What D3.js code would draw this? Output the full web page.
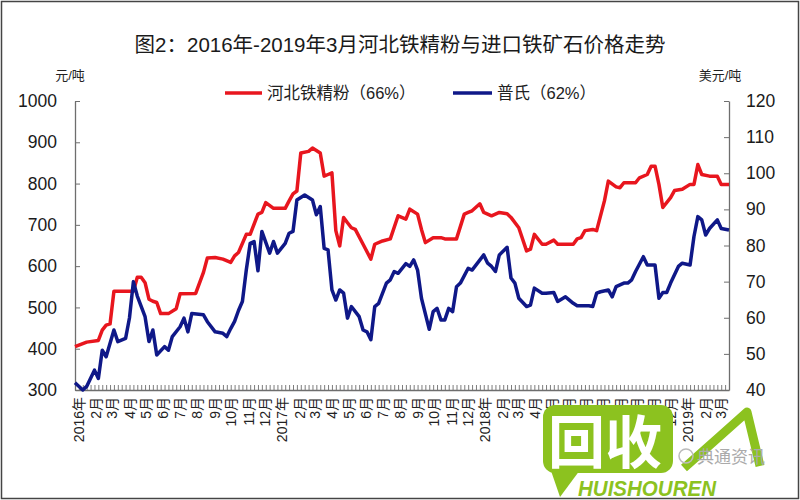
<!DOCTYPE html>
<html><head><meta charset="utf-8">
<script src="https://cdn.jsdelivr.net/npm/d3@7/dist/d3.min.js"></script>
<style>
html,body{margin:0;padding:0;background:#fff;}
text{font-family:"Liberation Sans","Noto Sans CJK SC",sans-serif;}
</style></head>
<body>
<svg id="c" width="800" height="500"></svg>
<script>
// ---- data ----
const title = "图2：2016年-2019年3月河北铁精粉与进口铁矿石价格走势";
const seriesNames = ["河北铁精粉（66%）", "普氏（62%）"];
const leftUnit = "元/吨", rightUnit = "美元/吨";
const leftTicks = [300,400,500,600,700,800,900,1000];
const rightTicks = [40,50,60,70,80,90,100,110,120];
const monthLabels = ["2016年","2月","3月","4月","5月","6月","7月","8月","9月","10月","11月","12月",
  "2017年","2月","3月","4月","5月","6月","7月","8月","9月","10月","11月","12月",
  "2018年","2月","3月","4月","5月","6月","7月","8月","9月","10月","11月","12月",
  "2019年","2月","3月"];
const firstWeek = "2016-01-01";
const weekCount = 168;
// [week index, price] 河北铁精粉 (元/吨, left axis)
const hebei = [[0,405],[3,416],[6,420],[7,445],[8,457],[9,460],[10,539],[15,539],[16,573],[17,573],[18,560],[19,520],[20,515],[21,512],[22,485],[24,485],[26,497],[27,533],[31,534],[33,585],[34,620],[36,621],[38,617],[40,609],[41,625],[42,633],[44,677],[45,677],[47,726],[48,730],[49,754],[51,740],[54,740],[55,758],[56,775],[57,782],[58,874],[60,878],[61,886],[63,874],[64,818],[65,822],[66,826],[67,686],[68,649],[69,718],[70,705],[71,693],[72,689],[74,653],[76,617],[77,653],[79,661],[81,666],[83,722],[85,714],[86,738],[88,726],[89,689],[90,657],[92,669],[94,669],[95,666],[98,666],[100,726],[101,730],[102,734],[104,751],[105,730],[107,722],[109,730],[111,727],[112,718],[114,693],[116,637],[117,641],[118,677],[120,653],[121,653],[123,663],[124,653],[128,653],[129,666],[130,669],[131,686],[133,689],[134,686],[136,758],[137,806],[139,792],[140,790],[141,802],[142,802],[144,802],[145,814],[147,822],[148,842],[149,842],[150,798],[151,742],[153,766],[154,783],[156,786],[158,798],[159,798],[160,846],[161,822],[163,818],[165,818],[166,798],[168,798]];
// [week index, price] 普氏 (美元/吨, right axis)
const platts = [[0,42],[2,40],[3,41],[5,45.5],[6,43.2],[7,51],[8,49.2],[10,56.6],[11,53.4],[13,54.3],[14,60],[15,70],[16,66],[18,60.3],[19,53.4],[20,56.6],[21,49.7],[23,52],[24,51],[25,54.8],[27,57.5],[28,59.9],[29,56.1],[30,61.2],[33,60.8],[34,58.9],[36,56.1],[38,55.7],[39,54.8],[40,57],[41,59],[42,62],[43,64.5],[44,73.2],[45,80.6],[46,81.1],[47,73],[48,83.9],[50,77.9],[51,81.1],[52,77.9],[54,80.6],[55,83.4],[56,83.9],[57,92.6],[59,94],[61,92.6],[62,88.5],[63,90.8],[64,79.2],[65,78.8],[66,67.7],[67,64.9],[68,67.7],[69,66.8],[70,59.9],[71,63.1],[73,60.3],[74,56.6],[75,56.1],[76,53.9],[77,63.1],[78,64],[80,69.6],[81,70.5],[82,72.8],[83,72.3],[85,75],[86,74.2],[87,76],[88,73.2],[89,65.4],[91,56.8],[92,61.7],[93,62.6],[94,59.4],[95,59.4],[96,62.6],[97,61.7],[98,68.6],[99,69.6],[101,73.7],[102,73.2],[105,77.4],[106,75.1],[107,74.2],[108,72.8],[109,77.4],[111,79.5],[112,71],[113,69.6],[114,65.4],[116,63.1],[117,63.5],[118,68.2],[120,66.8],[121,66.8],[123,67],[124,64.5],[126,65.8],[128,64],[129,63.3],[132,63.3],[133,63.1],[134,66.8],[135,67.2],[137,67.7],[138,65.8],[139,68.6],[140,69.1],[141,69.6],[142,69.6],[143,70.5],[144,72.8],[146,76.9],[147,74.6],[149,74.6],[150,65.4],[151,67],[152,67],[153,69.6],[155,74.2],[156,75.1],[158,74.6],[159,82.5],[160,88],[161,87.1],[162,82.9],[163,84.7],[165,87.1],[166,84.7],[168,84.3]];

// ---- chart ----
const svg = d3.select("#c");
const W = 800, H = 500;
const L = 75, R = 729, T = 101, B = 390;
const start = d3.timeParse("%Y-%m-%d")(firstWeek);
const weekDate = w => d3.timeDay.offset(start, w * 7);
const x = d3.scaleTime().domain([start, weekDate(weekCount)]).range([L, R]);
const yL = d3.scaleLinear().domain([300, 1000]).range([B, T]);
const yR = d3.scaleLinear().domain([40, 120]).range([B, T]);
const RED = "#e8161e", BLUE = "#0f1888", AXIS = "#6e6e6e";

svg.append("rect").attr("x",0).attr("y",0).attr("width",W).attr("height",H).attr("fill","#fff");

// title
svg.append("text").attr("x", 400).attr("y", 52).attr("text-anchor","middle")
  .attr("font-size", 20.5).attr("fill","#1a1a1a").text(title);

// units
svg.append("text").attr("x", 70).attr("y", 80).attr("text-anchor","middle").attr("font-size",13).attr("fill","#222").text(leftUnit);
svg.append("text").attr("x", 720).attr("y", 80).attr("text-anchor","middle").attr("font-size",13).attr("fill","#222").text(rightUnit);

// legend
const lg = [{x0:225,x1:262,tx:267,c:RED,t:seriesNames[0]},{x0:453,x1:492,tx:497,c:BLUE,t:seriesNames[1]}];
lg.forEach(d=>{
  svg.append("line").attr("x1",d.x0).attr("x2",d.x1).attr("y1",93).attr("y2",93).attr("stroke",d.c).attr("stroke-width",3.5);
  svg.append("text").attr("x",d.tx).attr("y",99).attr("font-size",16.5).attr("fill","#222").text(d.t);
});

// left axis
const gl = svg.append("g").attr("transform",`translate(${L},0)`)
  .call(d3.axisLeft(yL).tickValues(leftTicks).tickFormat(d3.format("d")).tickSize(-5).tickSizeOuter(0).tickPadding(18));
gl.select(".domain").attr("stroke",AXIS).attr("stroke-width",1.3);
gl.selectAll(".tick line").attr("stroke",AXIS);
gl.selectAll(".tick text").attr("font-size",17.5).attr("fill","#1a1a1a").attr("font-family","Liberation Sans, sans-serif");

// right axis
const gr = svg.append("g").attr("transform",`translate(${R},0)`)
  .call(d3.axisRight(yR).tickValues(rightTicks).tickFormat(d3.format("d")).tickSize(-5).tickSizeOuter(0).tickPadding(17));
gr.select(".domain").attr("stroke",AXIS).attr("stroke-width",1.3);
gr.selectAll(".tick line").attr("stroke",AXIS);
gr.selectAll(".tick text").attr("font-size",17.5).attr("fill","#1a1a1a").attr("font-family","Liberation Sans, sans-serif");

// bottom axis with weekly ticks
const weekTicks = d3.range(0, weekCount + 1).map(weekDate);
const gb = svg.append("g").attr("transform",`translate(0,${B})`)
  .call(d3.axisBottom(x).tickValues(weekTicks).tickSize(-5).tickSizeOuter(0).tickFormat(""));
gb.select(".domain").attr("stroke",AXIS).attr("stroke-width",1.3);
gb.selectAll(".tick line").attr("stroke",AXIS).attr("stroke-width",0.9);

// month labels
const months = d3.timeMonth.range(start, weekDate(weekCount)).slice(0, monthLabels.length);
svg.append("g").selectAll("text").data(months).join("text")
  .attr("transform", (d,i) => `translate(${x(d)+4},397) rotate(-90)`)
  .attr("text-anchor","end").attr("dy","0.35em")
  .attr("font-size",14).attr("fill","#222")
  .attr("font-family","Liberation Serif, Noto Sans CJK SC, serif")
  .text((d,i)=>monthLabels[i]);

// lines
const lineL = d3.line().x(d=>x(weekDate(d[0]))).y(d=>yL(d[1]));
const lineR = d3.line().x(d=>x(weekDate(d[0]))).y(d=>yR(d[1]));
svg.append("path").attr("d", lineL(hebei)).attr("fill","none").attr("stroke",RED).attr("stroke-width",3.5).attr("stroke-linejoin","round");
svg.append("path").attr("d", lineR(platts)).attr("fill","none").attr("stroke",BLUE).attr("stroke-width",3.5).attr("stroke-linejoin","round");

// watermark overlay
const G = "#8cc21f";
const wm = svg.append("g");
wm.append("rect").attr("x",543).attr("y",405).attr("width",130).attr("height",68).attr("rx",12).attr("fill",G);
wm.append("path").attr("d","M548,462 L560,497 L580,470 Z").attr("fill",G);
wm.append("text").attr("x",548).attr("y",463).attr("font-size",57).attr("font-weight","bold").attr("fill","#fff")
  .attr("font-family","Noto Sans CJK SC, sans-serif").text("回收");
wm.append("path").attr("d","M684,468 Q718,438 747,412 L760,466").attr("fill","none").attr("stroke",G).attr("stroke-width",9).attr("stroke-linejoin","round");
wm.append("circle").attr("cx",686).attr("cy",456).attr("r",7).attr("fill","none").attr("stroke","#bbb").attr("stroke-width",1.5);
wm.append("text").attr("x",697).attr("y",463).attr("font-size",17).attr("fill","#aaa")
  .attr("font-family","Noto Sans CJK SC, sans-serif").text("典通资讯");
wm.append("text").attr("x",578).attr("y",496).attr("font-size",22).attr("font-weight","bold").attr("font-style","italic")
  .attr("fill",G).attr("textLength",138).attr("lengthAdjust","spacingAndGlyphs").text("HUISHOUREN");

// frame
svg.append("rect").attr("x",1.5).attr("y",1.5).attr("width",W-3).attr("height",H-3).attr("fill","none").attr("stroke","#444").attr("stroke-width",1.5);
</script>
</body></html>
